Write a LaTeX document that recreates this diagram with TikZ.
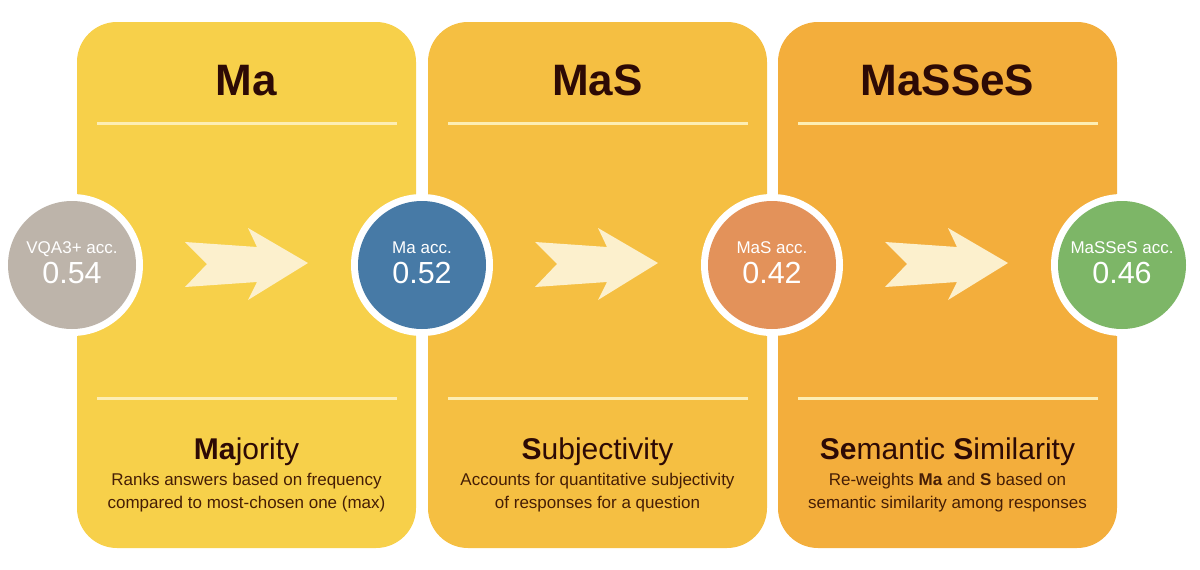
\documentclass[tikz,border=0pt]{standalone}
\usepackage{fontspec}
\setmainfont{Liberation Sans}
\definecolor{pA}{RGB}{247,208,74}
\definecolor{pB}{RGB}{245,191,66}
\definecolor{pC}{RGB}{243,174,60}
\definecolor{rule}{RGB}{253,238,180}
\definecolor{cGray}{RGB}{189,180,170}
\definecolor{cBlue}{RGB}{71,122,166}
\definecolor{cOrange}{RGB}{227,146,90}
\definecolor{cGreen}{RGB}{125,182,103}
\definecolor{arrowc}{RGB}{252,240,205}
\definecolor{ink}{RGB}{45,10,5}
\definecolor{ink2}{RGB}{70,30,5}
\tikzset{
  panel/.style={rounded corners=40, draw=none},
  rulel/.style={draw=rule, line width=3},
  ring/.style={circle, fill=white, minimum size=142, inner sep=0},
  disc/.style={circle, minimum size=128, inner sep=0},
  accs/.style={text=white, font=\fontsize{17}{20}\selectfont, anchor=base, inner sep=0},
  accn/.style={text=white, font=\fontsize{30.5}{34}\selectfont, anchor=base, inner sep=0},
  title/.style={text=ink, font=\fontsize{44}{50}\selectfont\bfseries, anchor=base},
  sub/.style={text=ink, font=\fontsize{30}{34}\selectfont, anchor=base},
  desc/.style={text=ink2, font=\fontsize{17}{22.5}\selectfont, align=center, anchor=base},
  chev/.style={fill=arrowc}
}
\begin{document}
\begin{tikzpicture}[x=1pt,y=-1pt]
\useasboundingbox (0,0) rectangle (1200,570);
% panels
\fill[panel, pA] (77,22) rectangle (416,548);
\fill[panel, pB] (428,22) rectangle (767,548);
\fill[panel, pC] (778,22) rectangle (1117,548);
% rules
\foreach \x in {97,448,798}{
  \draw[rulel] (\x,123) -- ++(300,0);
  \draw[rulel] (\x,398) -- ++(300,0);
}
% titles
\node[title] (t1) at (246.5,95) {Ma};
\node[title] (t2) at (597.5,95) {MaS};
\node[title] (t3) at (947.5,95) {MaSSeS};
% subtitles
\node[sub] (s1) at (246.5,459) {\textbf{Ma}jority};
\node[sub] (s2) at (597.5,459) {\textbf{S}ubjectivity};
\node[sub] (s3) at (947.5,459) {\textbf{Se}mantic \textbf{S}imilarity};
\node[desc] (d1) at (246.5,508) {Ranks answers based on frequency\\compared to most-chosen one (max)};
\node[desc] (d2) at (597.5,508) {Accounts for quantitative subjectivity\\of responses for a question};
\node[desc] (d3) at (947.5,508) {Re-weights \textbf{Ma} and \textbf{S} based on\\semantic similarity among responses};
% arrows
\foreach \dx in {0,350,700}{
  \fill[chev, shift={(\dx,0)}] (185,242) -- (257,247) -- (248,228) -- (308,263) -- (248,300) -- (257,282) -- (185,287) -- (207,264) -- cycle;
}
% circles
\node[ring] (r0) at (72,265) {};
\node[ring] (r1) at (422,265) {};
\node[ring] (r2) at (772,265) {};
\node[ring] (r3) at (1122,265) {};
\node[disc, fill=cGray] (c0) at (r0) {};
\node[disc, fill=cBlue] (c1) at (r1) {};
\node[disc, fill=cOrange] (c2) at (r2) {};
\node[disc, fill=cGreen] (c3) at (r3) {};
\node[accs] (c0a) at (72,253) {VQA3+ acc.};
\node[accn] (c0b) at (72,283) {0.54};
\node[accs] (c1a) at (422,253) {Ma acc.};
\node[accn] (c1b) at (422,283) {0.52};
\node[accs] (c2a) at (772,253) {MaS acc.};
\node[accn] (c2b) at (772,283) {0.42};
\node[accs] (c3a) at (1122,253) {MaSSeS acc.};
\node[accn] (c3b) at (1122,283) {0.46};
\end{tikzpicture}
\end{document}
